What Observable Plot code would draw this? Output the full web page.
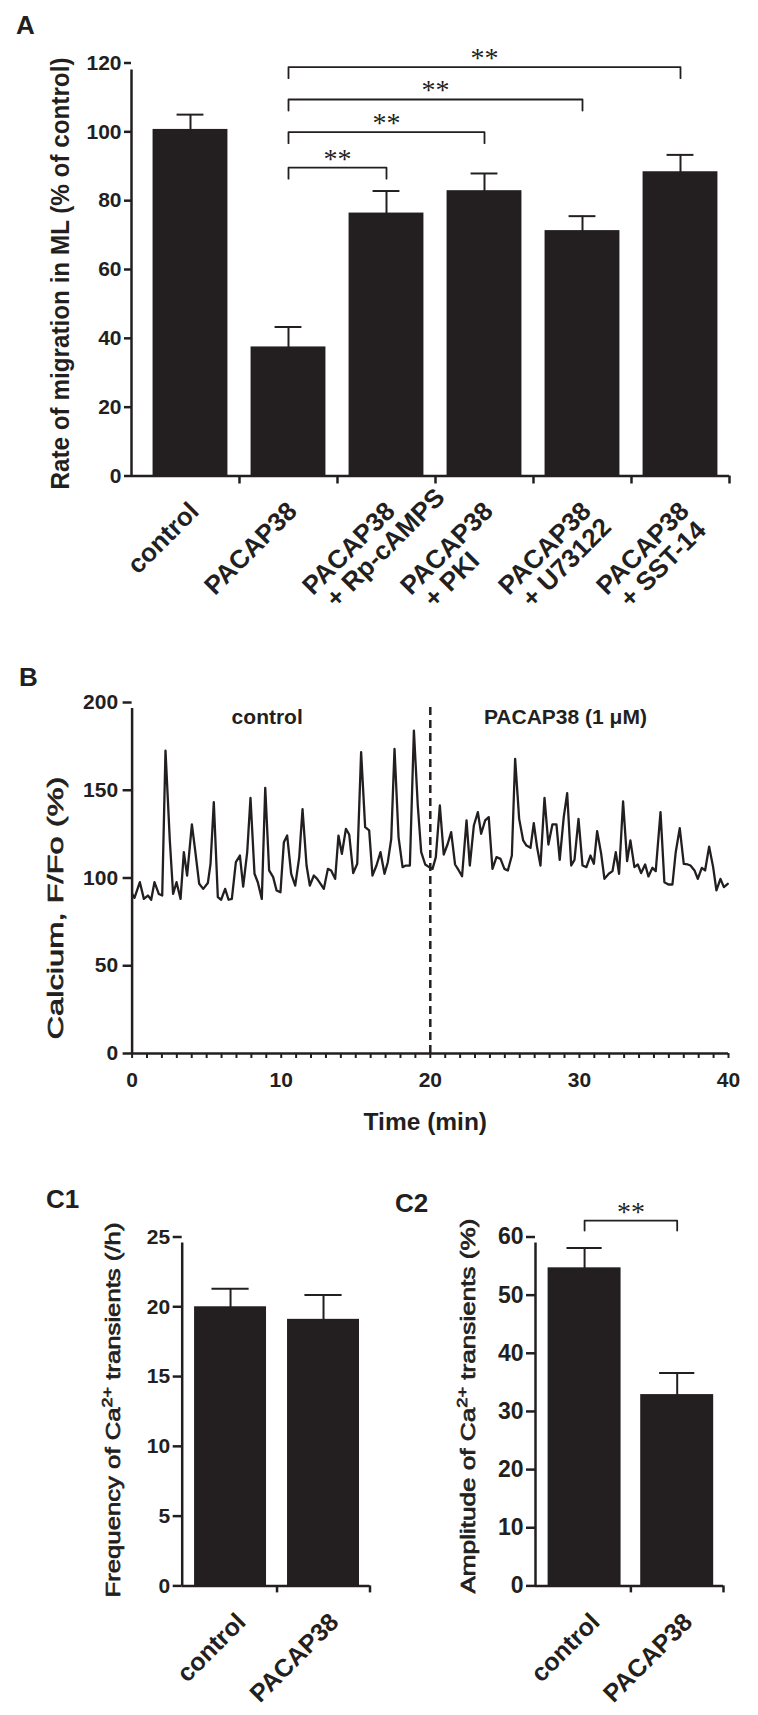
<!DOCTYPE html>
<html><head><meta charset="utf-8">
<script src="https://cdn.jsdelivr.net/npm/d3@7"></script>
<script src="https://cdn.jsdelivr.net/npm/@observablehq/plot@0.6"></script>
<style>
html,body{margin:0;padding:0;background:#fff;}
#fig{position:relative;width:758px;height:1715px;overflow:hidden;font-family:"Liberation Sans",Arial,sans-serif;color:#231f20;background:#fff;}
.panel{position:absolute;}
.letter{position:absolute;font-weight:bold;line-height:1;font-size:26px;font-family:"Liberation Sans",Arial,sans-serif;}
</style></head><body><div id="fig"></div>
<script>
const INK = "#231f20";
const SANS = "'Liberation Sans', Arial, sans-serif";
const NARROW = "'Liberation Sans Narrow', 'Arial Narrow', 'Liberation Sans', Arial, sans-serif";
const SERIF = "'Liberation Serif', 'Times New Roman', serif";

// ---------- Panel A data ----------
const catsA = ["control", "PACAP38", "PACAP38\n+ Rp-cAMPS", "PACAP38\n+ PKI", "PACAP38\n+ U73122", "PACAP38\n+ SST-14"];
const meanA = [100.7, 37.5, 76.4, 82.9, 71.3, 88.4];
const semA  = [4.3, 5.8, 6.4, 5.0, 4.2, 4.9];
const ticksA = [0, 20, 40, 60, 80, 100, 120];
const sigA = [
  {from: 1, to: 2, level: 89.6, label: "**"},
  {from: 1, to: 3, level: 99.9, label: "**"},
  {from: 1, to: 4, level: 109.4, label: "**"},
  {from: 1, to: 5, level: 118.8, label: "**"}
];
const yLabelA = "Rate of migration in ML (% of control)";

// ---------- Panel B data ----------
const timeB = [0,0.16,0.52,0.79,1.06,1.28,1.50,1.79,2.02,2.24,2.53,2.75,2.98,3.25,3.47,3.69,4.01,4.23,4.50,4.77,5.08,5.26,5.48,5.75,5.97,6.24,6.47,6.69,6.96,7.23,7.45,7.72,7.94,8.21,8.43,8.70,8.93,9.19,9.46,9.69,9.95,10.18,10.40,10.67,10.94,11.21,11.43,11.70,11.92,12.19,12.41,12.64,12.86,13.13,13.35,13.62,13.84,14.07,14.34,14.56,14.83,15.10,15.36,15.63,15.90,16.12,16.39,16.66,16.93,17.15,17.38,17.60,17.87,18.14,18.36,18.63,18.90,19.16,19.39,19.66,19.92,20.15,20.37,20.64,
  20.90,21.17,21.40,21.66,21.91,22.13,22.43,22.65,22.92,23.19,23.41,23.68,23.92,24.17,24.44,24.71,24.97,25.20,25.47,25.69,25.96,26.23,26.45,26.72,26.94,27.16,27.39,27.66,27.92,28.19,28.46,28.68,28.95,29.18,29.45,29.67,29.94,30.21,30.47,30.74,30.97,31.19,31.46,31.68,31.97,32.22,32.44,32.66,32.93,33.20,33.42,33.69,33.92,34.14,34.41,34.63,34.90,35.12,35.44,35.70,35.97,36.24,36.46,36.73,37.00,37.27,37.45,37.72,37.94,38.21,38.43,38.70,38.97,39.19,39.46,39.69,39.95];
const calciumB = [90.9,88.7,97.6,88.1,90.0,87.6,97.6,90.9,90.0,172.6,121.4,90.9,97.6,88.1,114.7,101.4,130.5,115.7,96.7,93.8,97.1,108.1,143.2,89.1,87.6,93.8,87.6,88.1,109.0,112.8,95.1,114.7,145.7,102.4,97.6,88.1,151.4,104.3,100.5,92.9,91.9,120.4,124.2,102.4,95.7,111.9,139.2,107.1,95.7,101.4,99.5,96.7,93.8,105.2,104.3,99.5,124.2,113.8,128.0,124.8,102.8,108.1,171.7,129.0,127.1,101.4,107.1,114.7,102.4,109.0,122.3,173.6,123.3,106.2,107.1,107.1,184.0,141.3,114.7,107.7,106.2,105.2,111.9,141.3,
  113.4,119.5,126.1,107.7,104.3,101.0,132.8,107.1,129.9,137.5,125.2,132.8,134.7,105.2,111.9,110.9,105.2,104.3,112.8,167.9,133.7,121.4,118.5,117.2,131.2,117.6,107.1,145.7,119.1,130.5,130.5,110.3,134.7,148.3,107.1,110.3,133.7,107.1,106.2,112.8,108.1,126.7,113.8,99.5,102.4,103.9,114.7,102.4,143.6,109.6,121.4,106.2,107.7,102.8,107.7,100.9,105.8,103.9,137.5,97.6,96.3,96.3,114.7,128.4,108.1,107.7,107.1,104.3,99.5,105.8,104.3,117.9,106.2,92.9,99.5,94.8,96.7];
const phasesB = [{label: "control", start: 0, end: 20}, {label: "PACAP38 (1 \u03bcM)", start: 20, end: 40}];
const applicationB = [20];
const ticksBy = [0, 50, 100, 150, 200];
const ticksBx = d3.range(0, 41, 1);
const yLabelB = "Calcium, F/Fo (%)";
const xLabelB = "Time (min)";

// ---------- Panel C data ----------
const catsC = ["control", "PACAP38"];
const freqMean = [20.0, 19.1];
const freqSem  = [1.3, 1.75];
const ampMean  = [54.7, 32.9];
const ampSem   = [3.4, 3.7];
const ticksC1 = [0, 5, 10, 15, 20, 25];
const ticksC2 = [0, 10, 20, 30, 40, 50, 60];
const sigC2 = [{from: 0, to: 1, level: 62.8, label: "**"}];
const yLabelC1 = ["Frequency of Ca", "2+", " transients (/h)"];
const yLabelC2 = ["Amplitude of Ca", "2+", " transients (%)"];

// ---------- helpers ----------
const fig = document.getElementById("fig");
function place(node, left, top) {
  const d = document.createElement("div");
  d.className = "panel"; d.style.left = left + "px"; d.style.top = top + "px";
  d.appendChild(node); fig.appendChild(d);
}
function letter(txt, left, top) {
  const d = document.createElement("div");
  d.className = "letter"; d.textContent = txt; d.style.left = left + "px"; d.style.top = top + "px";
  fig.appendChild(d);
}
function stretch(svg, text, len) {
  d3.select(svg).selectAll("text").filter(function() { return this.textContent === text; })
    .attr("textLength", len).attr("lengthAdjust", "spacingAndGlyphs");
}
function superscript(svg, parts) {
  const full = parts.join("");
  d3.select(svg).selectAll("text").filter(function() { return this.textContent === full; }).each(function() {
    const t = d3.select(this); t.text(null);
    t.append("tspan").text(parts[0]);
    t.append("tspan").attr("baseline-shift", "super").attr("font-size", "70%").text(parts[1]);
    t.append("tspan").text(parts[2]);
  });
}
function bracketPoints(sig, drop) {
  return sig.flatMap((s, k) => [
    {k, x: s.from, y: s.level - drop},
    {k, x: s.from, y: s.level},
    {k, x: s.to, y: s.level},
    {k, x: s.to, y: s.level - drop}
  ]);
}
const baseStyle = (fs) => ({fontFamily: SANS, fontSize: fs + "px", fontWeight: "bold", color: INK, background: "transparent", overflow: "visible"});
// medium-weight look for the axis titles of B and C: regular face with a thin outline
const medium = {fontWeight: "normal", fill: INK, stroke: INK, strokeWidth: 0.7};

// ---------- Panel A ----------
{
  const data = catsA.map((c, i) => ({i, l1: c.split("\n")[0], l2: c.split("\n")[1] || "", mean: meanA[i], sem: semA[i]}));
  const xDom = [-0.602, catsA.length - 0.5];
  const bounds = d3.range(0.5, catsA.length, 1);
  const H = 640;
  const svg = Plot.plot({
    width: 758, height: H, marginLeft: 131, marginRight: 29, marginTop: 62.5, marginBottom: H - 475.5,
    x: {domain: xDom, axis: null},
    y: {domain: [0, 120], axis: null},
    style: baseStyle(20),
    marks: [
      Plot.rect(data, {x1: d => d.i - 0.382, x2: d => d.i + 0.382, y1: 0, y2: "mean", fill: INK}),
      Plot.ruleX(data, {x: "i", y1: d => d.mean - 2, y2: d => d.mean + d.sem, stroke: INK, strokeWidth: 2}),
      Plot.ruleY(data, {y: d => d.mean + d.sem, x1: d => d.i - 0.137, x2: d => d.i + 0.137, stroke: INK, strokeWidth: 2}),
      Plot.axisY({ticks: ticksA, label: null, tickSize: 7, tickPadding: 3, strokeWidth: 2.5, fontSize: 21, fontWeight: "bold", fontFamily: NARROW}),
      Plot.axisX({ticks: bounds, label: null, tickSize: 8, tickFormat: () => "", strokeWidth: 2.5}),
      Plot.ruleX([xDom[0]], {y1: 0, y2: 120, stroke: INK, strokeWidth: 2.5, insetBottom: -7}),
      Plot.ruleY([0], {stroke: INK, strokeWidth: 2.5}),
      Plot.text(data, {x: "i", frameAnchor: "bottom", text: "l1", rotate: -45, textAnchor: "end", lineAnchor: "middle", dx: 4, dy: 31, fontSize: 26, fontWeight: "bold"}),
      Plot.text(data.filter(d => d.l2), {x: "i", frameAnchor: "bottom", text: "l2", rotate: -45, textAnchor: "start", lineAnchor: "middle", dx: -56, dy: 127, fontSize: 26, fontWeight: "bold"}),
      Plot.line(bracketPoints(sigA, 3.2), {x: "x", y: "y", z: "k", stroke: INK, strokeWidth: 1.8, curve: "linear"}),
      Plot.text(sigA, {x: d => (d.from + d.to) / 2, y: "level", text: "label", lineAnchor: "bottom", dy: 0, fontFamily: SERIF, fontSize: 28, fontWeight: "normal"}),
      Plot.text([yLabelA], {frameAnchor: "left", rotate: -90, textAnchor: "middle", lineAnchor: "middle", dx: -71, dy: 4, fontSize: 25, fontWeight: "bold"})
    ]
  });
  place(svg, 0, 0);
  stretch(svg, yLabelA, 432);
}

// ---------- Panel B ----------
{
  const pts = timeB.slice(0, Math.min(timeB.length, calciumB.length)).map((t, i) => ({t, v: calciumB[i]}));
  const H = 520;
  const svg = Plot.plot({
    width: 758, height: H, marginLeft: 131.6, marginRight: 30, marginTop: 62, marginBottom: H - 413,
    x: {domain: [0, 40], axis: null},
    y: {domain: [0, 200], axis: null},
    style: baseStyle(21),
    marks: [
      Plot.ruleX(applicationB, {y1: 0, y2: 200, stroke: INK, strokeWidth: 2.5, strokeDasharray: "8,5"}),
      Plot.line(pts, {x: "t", y: "v", stroke: INK, strokeWidth: 2.3}),
      Plot.axisY({ticks: ticksBy, label: null, tickSize: 9, tickPadding: 5, strokeWidth: 2.5, fontSize: 21, fontWeight: "bold"}),
      Plot.axisX({ticks: ticksBx, label: null, tickSize: 5, tickPadding: 14, strokeWidth: 2, tickFormat: d => d % 10 === 0 ? String(d) : "", fontSize: 21, fontWeight: "bold"}),
      Plot.ruleX([0], {y1: 0, y2: 200, stroke: INK, strokeWidth: 2.5, insetBottom: -6}),
      Plot.ruleY([0], {stroke: INK, strokeWidth: 2.5}),
      Plot.text(phasesB, {x: d => (d.start + d.end) / 2, text: "label", frameAnchor: "top", lineAnchor: "bottom", dx: -14, dy: 21, fontSize: 21, fontWeight: "bold"}),
      Plot.text([xLabelB], {frameAnchor: "bottom", textAnchor: "middle", lineAnchor: "bottom", dx: -5, dy: 76, fontSize: 24.5, fontWeight: "bold"}),
      Plot.text([yLabelB], {frameAnchor: "left", rotate: -90, textAnchor: "middle", lineAnchor: "middle", dx: -76.6, dy: 30, fontSize: 22, ...medium})
    ]
  });
  place(svg, 0, 640);
  stretch(svg, yLabelB, 263);
}

// ---------- Panel C (generic bar panel) ----------
function barPanel({means, sems, xDom, yDom, ticks, mL, mR, mT, mB, H, W, half, cap, tickFs, ylab, ylabDx, ylabDy, ylabLen, sig, drop}) {
  const data = catsC.map((c, i) => ({i, c, mean: means[i], sem: sems[i]}));
  const bounds = d3.range(0.5, catsC.length, 1);
  const marks = [
    Plot.rect(data, {x1: d => d.i - half, x2: d => d.i + half, y1: 0, y2: "mean", fill: INK}),
    Plot.ruleX(data, {x: "i", y1: d => d.mean - yDom[1] * 0.02, y2: d => d.mean + d.sem, stroke: INK, strokeWidth: 2}),
    Plot.ruleY(data, {y: d => d.mean + d.sem, x1: d => d.i - cap, x2: d => d.i + cap, stroke: INK, strokeWidth: 2}),
    Plot.axisY({ticks, label: null, tickSize: 9, tickPadding: 3, strokeWidth: 2.5, fontSize: tickFs, fontWeight: "bold"}),
    Plot.axisX({ticks: bounds, label: null, tickSize: 7, tickFormat: () => "", strokeWidth: 2.5}),
    Plot.ruleX([xDom[0]], {y1: yDom[0], y2: yDom[1], stroke: INK, strokeWidth: 2.5, insetBottom: -6}),
    Plot.ruleY([0], {stroke: INK, strokeWidth: 2.5}),
    Plot.text(data, {x: "i", frameAnchor: "bottom", text: "c", rotate: -45, textAnchor: "end", lineAnchor: "middle", dx: 11, dy: 32, fontSize: 25, fontWeight: "bold"}),
    Plot.text([ylab.join("")], {frameAnchor: "left", rotate: -90, textAnchor: "middle", lineAnchor: "middle", dx: ylabDx, dy: ylabDy, fontSize: 20, ...medium})
  ];
  if (sig) {
    marks.push(Plot.line(bracketPoints(sig, drop), {x: "x", y: "y", z: "k", stroke: INK, strokeWidth: 1.8}));
    marks.push(Plot.text(sig, {x: d => (d.from + d.to) / 2, y: "level", text: "label", lineAnchor: "bottom", fontFamily: SERIF, fontSize: 28, fontWeight: "normal"}));
  }
  const svg = Plot.plot({
    width: W, height: H, marginLeft: mL, marginRight: mR, marginTop: mT, marginBottom: mB,
    x: {domain: xDom, axis: null}, y: {domain: yDom, axis: null},
    style: baseStyle(tickFs), marks
  });
  superscript(svg, ylab);
  stretch(svg, ylab.join(""), ylabLen);
  return svg;
}

const C1 = barPanel({means: freqMean, sems: freqSem, xDom: [-0.52, 1.5], yDom: [0, 25], ticks: ticksC1,
  W: 379, H: 555, mL: 181.7, mR: 9.5, mT: 76.5, mB: 555 - 425.4, half: 0.387, cap: 0.2, tickFs: 21,
  ylab: yLabelC1, ylabDx: -68.7, ylabDy: -1.4, ylabLen: 375});
place(C1, 0, 1160);
const C2 = barPanel({means: ampMean, sems: ampSem, xDom: [-0.53, 1.5], yDom: [0, 60], ticks: ticksC2,
  W: 379, H: 555, mL: 156, mR: 35, mT: 76.5, mB: 555 - 425.4, half: 0.394, cap: 0.19, tickFs: 23,
  ylab: yLabelC2, ylabDx: -67, ylabDy: -5.4, ylabLen: 375, sig: sigC2, drop: 1.7});
place(C2, 379, 1160);

letter("A", 16, 12);
letter("B", 19, 664);
letter("C1", 46, 1186);
letter("C2", 395, 1190);
</script></body></html>
